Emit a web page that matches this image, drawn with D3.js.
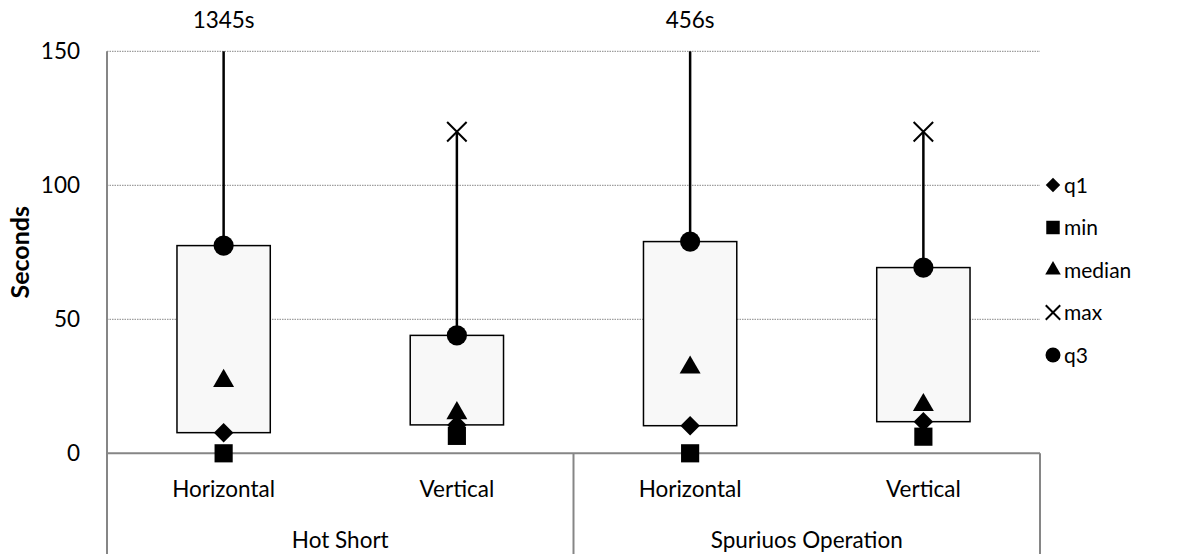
<!DOCTYPE html>
<html>
<head>
<meta charset="utf-8">
<script src="https://cdn.jsdelivr.net/npm/d3@7"></script>
<style>
	html, body { margin: 0; padding: 0; background: #fff; }
	svg text { font-family: Lato, "Open Sans", sans-serif; fill: #000; }
</style>
</head>
<body>
<div id="chart"></div>
<script>

// data
const groups = ["Hot Short", "Spuriuos Operation"];
const orientations = ["Horizontal", "Vertical"];
const minValues = [0, 6.5, 0, 6.2];
const q1Values = [7.7, 10.6, 10.3, 11.8];
const medianValues = [27, 15, 32, 18];
const q3Values = [77.5, 44, 79, 69.3];
const maxValues = [1345, 120, 456, 120];
const yTicks = [0, 50, 100, 150];
const legendNames = ["q1", "min", "median", "max", "q3"];

const width = 1190;
const height = 554;
const margin = {top: 51.3, right: 150, bottom: 100.7, left: 107};
const labelSize = "22.5px";

let svg = d3.select("#chart")
	.append("svg")
	.attr("width", width)
	.attr("height", height);

const plotW = width - margin.left - margin.right;
const plotH = height - margin.top - margin.bottom;

// one slot per group / orientation pair
let items = [];
groups.forEach((g, gi) => {
	orientations.forEach((o, oi) => {
		let i = gi * orientations.length + oi;
		items.push({
			key: g + "|" + o, group: g, orient: o,
			min: minValues[i], q1: q1Values[i], median: medianValues[i],
			q3: q3Values[i], max: maxValues[i]
		});
	});
});

let x = d3.scaleBand()
	.domain(items.map(d => d.key))
	.range([margin.left, margin.left + plotW])
	.paddingInner(0.6)
	.paddingOuter(0.3);

let xGroup = d3.scaleBand()
	.domain(groups)
	.range([margin.left, margin.left + plotW]);

let y = d3.scaleLinear()
	.domain([0, 150])
	.range([margin.top + plotH, margin.top]);

const axisColor = "#868686";

// gridlines
svg.append("g")
	.selectAll("line")
	.data(yTicks.filter(t => t > 0))
	.join("line")
	.attr("x1", margin.left)
	.attr("x2", margin.left + plotW)
	.attr("y1", d => y(d))
	.attr("y2", d => y(d))
	.attr("stroke", axisColor)
	.attr("stroke-width", 1)
	.attr("stroke-dasharray", "1.5,1");

// y axis
let yAxis = svg.append("g")
	.attr("transform", `translate(${margin.left},0)`)
	.call(d3.axisLeft(y).tickValues(yTicks).tickSize(0).tickPadding(27));
yAxis.select(".domain").remove();
yAxis.selectAll("text")
	.attr("font-size", labelSize)
	.attr("font-family", "Lato, sans-serif")
	.attr("fill", "#000");

svg.append("line")
	.attr("x1", margin.left).attr("x2", margin.left)
	.attr("y1", y(150)).attr("y2", height)
	.attr("stroke", axisColor).attr("stroke-width", 2);

svg.append("text")
	.attr("transform", `translate(29,${y(75)}) rotate(-90)`)
	.attr("text-anchor", "middle")
	.attr("font-size", "25px")
	.attr("font-weight", "bold")
	.text("Seconds");

// category axis
svg.append("line")
	.attr("x1", margin.left).attr("x2", margin.left + plotW)
	.attr("y1", y(0)).attr("y2", y(0))
	.attr("stroke", axisColor).attr("stroke-width", 2);

svg.append("g")
	.selectAll("line")
	.data(groups.slice(1).map(g => xGroup(g)).concat([margin.left + plotW]))
	.join("line")
	.attr("x1", d => d).attr("x2", d => d)
	.attr("y1", y(0)).attr("y2", height)
	.attr("stroke", axisColor).attr("stroke-width", 2);

svg.append("g")
	.selectAll("text")
	.data(items)
	.join("text")
	.attr("x", d => x(d.key) + x.bandwidth() / 2)
	.attr("y", y(0) + 44)
	.attr("text-anchor", "middle")
	.attr("font-size", labelSize)
	.text(d => d.orient);

svg.append("g")
	.selectAll("text")
	.data(groups)
	.join("text")
	.attr("x", d => xGroup(d) + xGroup.bandwidth() / 2)
	.attr("y", y(0) + 95)
	.attr("text-anchor", "middle")
	.attr("font-size", labelSize)
	.text(d => d);

// boxes
let boxes = svg.append("g");

boxes.selectAll("rect")
	.data(items)
	.join("rect")
	.attr("x", d => x(d.key))
	.attr("width", x.bandwidth())
	.attr("y", d => y(d.q3))
	.attr("height", d => y(d.q1) - y(d.q3))
	.attr("fill", "#f8f8f8")
	.attr("stroke", "#000")
	.attr("stroke-width", 1.5);

// whisker q3 -> max (clipped at top of plot)
boxes.selectAll("line")
	.data(items)
	.join("line")
	.attr("x1", d => x(d.key) + x.bandwidth() / 2)
	.attr("x2", d => x(d.key) + x.bandwidth() / 2)
	.attr("y1", d => y(d.q3))
	.attr("y2", d => y(Math.min(d.max, 150)))
	.attr("stroke", "#000")
	.attr("stroke-width", 2.5);

// out of range maxima written above the plot
svg.append("g")
	.selectAll("text")
	.data(items.filter(d => d.max > 150))
	.join("text")
	.attr("x", d => x(d.key) + x.bandwidth() / 2)
	.attr("y", 28)
	.attr("text-anchor", "middle")
	.attr("font-size", labelSize)
	.text(d => d.max + "s");

// marker shapes
const diamond = {
	draw(ctx, size) {
		let r = Math.sqrt(size / 2);
		ctx.moveTo(0, -r); ctx.lineTo(r, 0); ctx.lineTo(0, r); ctx.lineTo(-r, 0); ctx.closePath();
	}
};
const cross = {
	draw(ctx, size) {
		let r = Math.sqrt(size) / 2;
		ctx.moveTo(-r, -r); ctx.lineTo(r, r);
		ctx.moveTo(r, -r); ctx.lineTo(-r, r);
	}
};

const markerDefs = {
	q1: {type: diamond, size: 190, fill: true},
	min: {type: d3.symbolSquare, size: 330, fill: true},
	median: {type: d3.symbolTriangle, size: 190, fill: true},
	max: {type: cross, size: 380, fill: false},
	q3: {type: d3.symbolCircle, size: 320, fill: true}
};

function drawMarker(sel, name, scale) {
	let m = markerDefs[name];
	sel.attr("d", d3.symbol().type(m.type).size(m.size * scale)())
		.attr("fill", m.fill ? "#000" : "none")
		.attr("stroke", m.fill ? "none" : "#000")
		.attr("stroke-width", m.fill ? 0 : 2);
}

legendNames.forEach(name => {
	svg.append("g")
		.selectAll("path")
		.data(items.filter(d => d[name] <= 150))
		.join("path")
		.attr("transform", d => `translate(${x(d.key) + x.bandwidth() / 2},${y(d[name])})`)
		.call(drawMarker, name, 1);
});

// legend
let legend = svg.append("g")
	.selectAll("g")
	.data(legendNames)
	.join("g")
	.attr("transform", (d, i) => `translate(1053,${185 + i * 42.5})`);

legend.each(function(name) {
	d3.select(this).append("path").call(drawMarker, name, 0.55);
});

legend.append("text")
	.attr("x", 11)
	.attr("y", 7.5)
	.attr("font-size", "21px")
	.text(d => d);

</script>
</body>
</html>
